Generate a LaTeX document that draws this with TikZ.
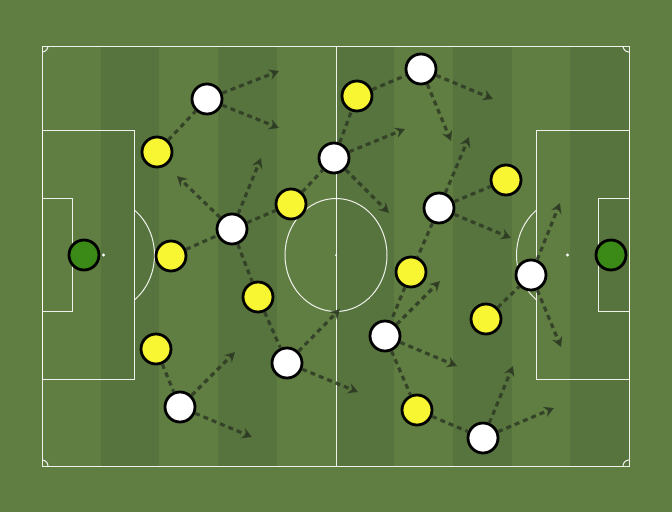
\documentclass[tikz,border=0pt]{standalone}
\usetikzlibrary{arrows.meta,shadows}
\definecolor{grass}{HTML}{617E42}
\definecolor{grassdark}{HTML}{58743E}
\definecolor{kityellow}{HTML}{F8F533}
\definecolor{keepergreen}{HTML}{3B8A17}
\definecolor{runline}{HTML}{2E3B24}

\begin{document}
\begin{tikzpicture}[x=1pt,y=-1pt,
	pitchline/.style={white,line width=1pt,opacity=0.9},
	player/.style={circle,draw=black,line width=2.8pt,minimum size=30pt,inner sep=0pt,
		drop shadow={opacity=0.25,shadow xshift=0.8pt,shadow yshift=-1pt}},
	whiteman/.style={player,fill=white},
	yellowman/.style={player,fill=kityellow},
	keeper/.style={player,fill=keepergreen},
	pass/.style={runline,opacity=0.85,line width=3.2pt,dash pattern=on 5pt off 4pt},
	run/.style={pass,-{Stealth[length=10pt,width=11pt,inset=3.5pt]}}]
	
	%grass and stripes
	\fill[grass] (0,0) rectangle (672,512);
	\useasboundingbox (0,0) rectangle (672,512);
	\foreach \i in {1,3,5,7,9}
		\fill[grassdark] ({42+\i*58.7},46) rectangle ({42+(\i+1)*58.7},466);
	
	%pitch markings
	\draw[pitchline] (42,46) rectangle (629,466);
	\draw[pitchline] (336,46) -- (336,466);
	\draw[pitchline] (336,255) ellipse [x radius=51pt,y radius=56.5pt];
	\fill[white] (336,255) circle (1pt);
	\draw[pitchline] (42,130.5) rectangle (134.5,379.5);
	\draw[pitchline] (42,198.5) rectangle (72.7,311.5);
	\draw[pitchline] (629,130.5) rectangle (536.5,379.5);
	\draw[pitchline] (629,198.5) rectangle (598.3,311.5);
	\fill[white] (103.5,255) circle (1.6pt);
	\fill[white] (567.5,255) circle (1.6pt);
	\begin{scope}
		\clip (134.5,0) rectangle (336,512);
		\draw[pitchline] (103.5,255) ellipse [x radius=51pt,y radius=56.5pt];
	\end{scope}
	\begin{scope}
		\clip (336,0) rectangle (536.5,512);
		\draw[pitchline] (567.5,255) ellipse [x radius=51pt,y radius=56.5pt];
	\end{scope}
	\begin{scope}
		\clip (42,46) rectangle (629,466);
		\foreach \cx/\cy in {42/46,629/46,42/466,629/466}
			\draw[pitchline] (\cx,\cy) circle (6pt);
	\end{scope}
	
	%keepers
	\node[keeper] (gk1) at (84,255) {};
	\node[keeper] (gk2) at (611,255) {};
	
	%yellow side
	\node[yellowman] (y1) at (157,152) {};
	\node[yellowman] (y2) at (171,256) {};
	\node[yellowman] (y3) at (156,349) {};
	\node[yellowman] (y4) at (291,204) {};
	\node[yellowman] (y5) at (258,297) {};
	\node[yellowman] (y6) at (357,96) {};
	\node[yellowman] (y7) at (411,272) {};
	\node[yellowman] (y8) at (417,410) {};
	\node[yellowman] (y9) at (506,180) {};
	\node[yellowman] (y10) at (486,319) {};
	
	%white side
	\node[whiteman] (w1) at (207,99) {};
	\node[whiteman] (w2) at (232,229) {};
	\node[whiteman] (w3) at (180,407) {};
	\node[whiteman] (w4) at (287,363) {};
	\node[whiteman] (w5) at (334,158) {};
	\node[whiteman] (w6) at (421,69) {};
	\node[whiteman] (w7) at (439,208) {};
	\node[whiteman] (w8) at (385,336) {};
	\node[whiteman] (w9) at (531,275) {};
	\node[whiteman] (w10) at (483,438) {};
	
	%passing lanes
	\draw[pass] (y1) -- (w1);
	\draw[pass] (y2) -- (w2);
	\draw[pass] (w2) -- (y4);
	\draw[pass] (w2) -- (y5);
	\draw[pass] (y5) -- (w4);
	\draw[pass] (y3) -- (w3);
	\draw[pass] (y4) -- (w5);
	\draw[pass] (w5) -- (y6);
	\draw[pass] (y6) -- (w6);
	\draw[pass] (w7) -- (y9);
	\draw[pass] (w7) -- (y7);
	\draw[pass] (y7) -- (w8);
	\draw[pass] (w8) -- (y8);
	\draw[pass] (y8) -- (w10);
	\draw[pass] (y10) -- (w9);
	
	%runs
	\coordinate (r1) at (279,71);
	\coordinate (r2) at (279,128);
	\coordinate (r3) at (177,176);
	\coordinate (r4) at (261,158);
	\coordinate (r5) at (235,352);
	\coordinate (r6) at (252,437);
	\coordinate (r7) at (340,309);
	\coordinate (r8) at (358,392);
	\coordinate (r9) at (405,129);
	\coordinate (r10) at (389,213);
	\coordinate (r11) at (493,99);
	\coordinate (r12) at (451,141);
	\coordinate (r13) at (469,137);
	\coordinate (r14) at (511,238);
	\coordinate (r15) at (560,203);
	\coordinate (r16) at (561,347);
	\coordinate (r17) at (440,281);
	\coordinate (r18) at (457,366);
	\coordinate (r19) at (513,366);
	\coordinate (r20) at (554,408);
	\draw[run] (w1) -- (r1);
	\draw[run] (w1) -- (r2);
	\draw[run] (w2) -- (r3);
	\draw[run] (w2) -- (r4);
	\draw[run] (w3) -- (r5);
	\draw[run] (w3) -- (r6);
	\draw[run] (w4) -- (r7);
	\draw[run] (w4) -- (r8);
	\draw[run] (w5) -- (r9);
	\draw[run] (w5) -- (r10);
	\draw[run] (w6) -- (r11);
	\draw[run] (w6) -- (r12);
	\draw[run] (w7) -- (r13);
	\draw[run] (w7) -- (r14);
	\draw[run] (w9) -- (r15);
	\draw[run] (w9) -- (r16);
	\draw[run] (w8) -- (r17);
	\draw[run] (w8) -- (r18);
	\draw[run] (w10) -- (r19);
	\draw[run] (w10) -- (r20);
\end{tikzpicture}
\end{document}
